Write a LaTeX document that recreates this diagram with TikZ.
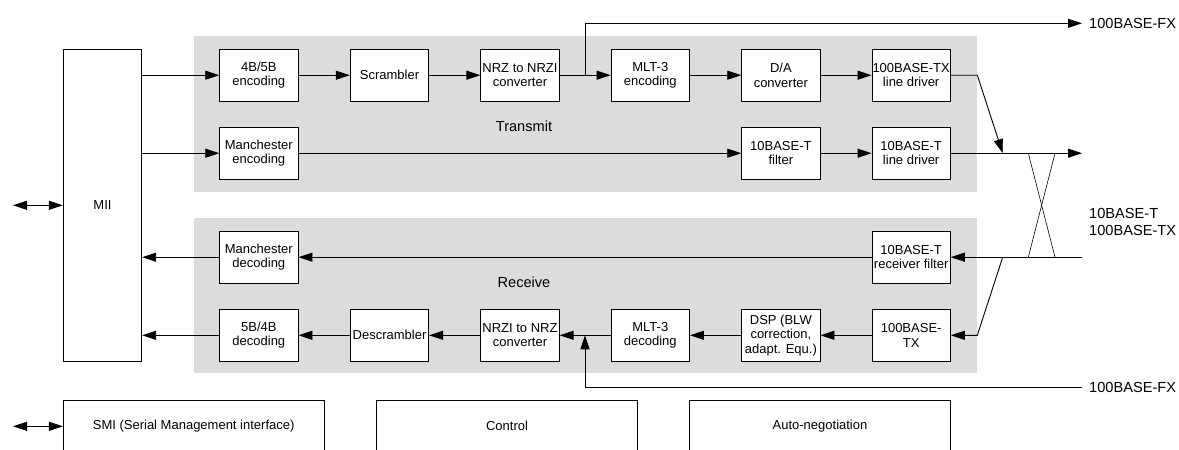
\documentclass[tikz,border=0pt]{standalone}
\usepackage{fontspec}
\setmainfont{Liberation Sans}
\usetikzlibrary{arrows.meta}
\definecolor{panelgray}{RGB}{220,220,220}
\begin{document}
\begin{tikzpicture}[x=1pt,y=-1pt,
  every node/.style={font=\fontsize{13}{14.5}\selectfont},
  bigtxt/.style={font=\fontsize{14.6}{17}\selectfont},
  blk/.style={draw=black,fill=white,line width=0.9pt,minimum width=78.3pt,minimum height=51.7pt,inner sep=0pt,align=center},
  bigblk/.style={draw=black,fill=white,line width=0.9pt,minimum width=260.6pt,minimum height=51.4pt,inner sep=0pt,align=center},
  lbl/.style={bigtxt,inner sep=0pt,anchor=west,align=left},
  arr/.style={line width=0.9pt,-{Triangle[length=14pt,width=9pt]}},
  darr/.style={line width=0.9pt,{Triangle[length=14pt,width=9pt]}-{Triangle[length=14pt,width=9pt]}},
  ln/.style={line width=0.9pt},
  xln/.style={line width=0.6pt}]
\useasboundingbox (0,0) rectangle (1179,450);
% panels
\fill[panelgray] (193.7,36) rectangle (976.7,191.7);
\fill[panelgray] (193.7,218) rectangle (976.7,373.3);
\node[bigtxt] (tlbl) at (524,126.7) {Transmit};
\node[bigtxt] (rlbl) at (524,282.3) {Receive};
% MII
\node[draw=black,fill=white,line width=0.9pt,minimum width=78.4pt,minimum height=312pt,inner sep=0pt] (mii) at (102.5,205.3) {MII};
% transmit row 1
\node[blk] (enc) at (258.85,75.2) {4B/5B\\encoding};
\node[blk] (scr) at (389.5,75.2) {Scrambler};
\node[blk] (nrzi) at (520,75.2) {NRZ to NRZI\\converter};
\node[blk] (mlt) at (650.3,75.2) {MLT-3\\encoding};
\node[blk] (da) at (780.85,75.2) {D/A\\converter};
\node[blk] (txd) at (911.15,75.2) {100BASE-TX\\line driver};
% transmit row 2
\node[blk] (menc) at (258.85,153.2) {Manchester\\encoding};
\node[blk] (tflt) at (780.85,153.2) {10BASE-T\\filter};
\node[blk] (tdrv) at (911.15,153.2) {10BASE-T\\line driver};
% receive row 1
\node[blk] (mdec) at (258.85,257.2) {Manchester\\decoding};
\node[blk] (rflt) at (911.15,257.2) {10BASE-T\\receiver filter};
% receive row 2
\node[blk] (dec) at (258.85,335.3) {5B/4B\\decoding};
\node[blk] (dscr) at (389.5,335.3) {Descrambler};
\node[blk] (nrz) at (520,335.3) {NRZI to NRZ\\converter};
\node[blk] (mltd) at (650.3,335.3) {MLT-3\\decoding};
\node[blk] (dsp) at (780.85,335.3) {DSP (BLW\\correction,\\adapt. Equ.)};
\node[blk] (rx100) at (911.15,335.3) {100BASE-\\TX};
% bottom blocks
\node[bigblk] (smi) at (193.65,426) {SMI (Serial Management interface)};
\node[bigblk] (ctl) at (507,426) {Control};
\node[bigblk] (auto) at (820,426) {Auto-negotiation};
% side labels
\node[lbl] (fxtop) at (1089,23.3) {100BASE-FX};
\node[lbl] (tp) at (1089,221.5) {10BASE-T\\100BASE-TX};
\node[lbl] (fxbot) at (1089,387) {100BASE-FX};
% coordinates
\coordinate (fxs) at (585,75.2);
\coordinate (fxin) at (585,335.3);
\coordinate (fxtopend) at (1082,23.3);
\coordinate (fxbotend) at (1082,387);
\coordinate (txbend) at (977.3,75.2);
\coordinate (txjoin) at (1002.7,153.2);
\coordinate (txout) at (1082,153.2);
\coordinate (rxin) at (1082,257.2);
\coordinate (rxsplit) at (1002.7,257.2);
\coordinate (rxbend) at (977.3,335.3);
\coordinate (xa) at (1028.3,153.2);
\coordinate (xb) at (1055,153.2);
\coordinate (xc) at (1028.3,257.2);
\coordinate (xd) at (1055,257.2);
\coordinate (lft) at (13,205.3);
\coordinate (lft2) at (13,426.3);
% MII connections
\draw[darr] (lft) -- (lft -| mii.west);
\draw[darr] (lft2) -- (lft2 -| smi.west);
\draw[arr] (mii.east |- enc.west) -- (enc.west);
\draw[arr] (mii.east |- menc.west) -- (menc.west);
\draw[arr] (mdec.west) -- (mdec.west -| mii.east);
\draw[arr] (dec.west) -- (dec.west -| mii.east);
% transmit chain
\draw[arr] (enc) -- (scr);
\draw[arr] (scr) -- (nrzi);
\draw[arr] (nrzi) -- (mlt);
\draw[arr] (mlt) -- (da);
\draw[arr] (da) -- (txd);
\draw[arr] (fxs) |- (fxtopend);
\draw[arr] (txd.east) -- (txbend) -- (txjoin);
\draw[arr] (menc) -- (tflt);
\draw[arr] (tflt) -- (tdrv);
\draw[arr] (tdrv.east) -- (txout);
% crossing
\draw[xln] (xa) -- (xd);
\draw[xln] (xb) -- (xc);
% receive chain
\draw[arr] (rxin) -- (rflt.east);
\draw[arr] (rxsplit) -- (rxbend) -- (rx100.east);
\draw[arr] (rflt) -- (mdec);
\draw[arr] (rx100) -- (dsp);
\draw[arr] (dsp) -- (mltd);
\draw[arr] (mltd) -- (nrz);
\draw[arr] (nrz) -- (dscr);
\draw[arr] (dscr) -- (dec);
\draw[arr] (fxbotend) -| (fxin);
\end{tikzpicture}
\end{document}
